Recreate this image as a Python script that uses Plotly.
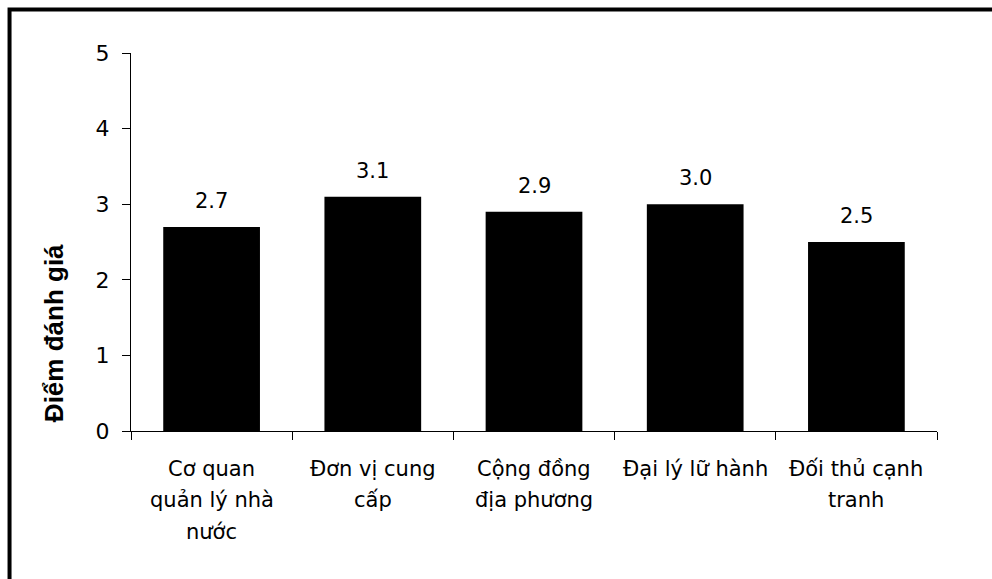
import plotly.graph_objects as go

# Survey scores by stakeholder group
categories = [
    "Cơ quan quản lý nhà nước",
    "Đơn vị cung cấp",
    "Cộng đồng địa phương",
    "Đại lý lữ hành",
    "Đối thủ cạnh tranh",
]
label_lines = [
    ["Cơ quan", "quản lý nhà", "nước"],
    ["Đơn vị cung", "cấp"],
    ["Cộng đồng", "địa phương"],
    ["Đại lý lữ hành"],
    ["Đối thủ cạnh", "tranh"],
]
scores = [2.7, 3.1, 2.9, 3.0, 2.5]
y_ticks = [0, 1, 2, 3, 4, 5]
y_title = "Điểm đánh giá"

FONT = "DejaVu Sans"

fig = go.Figure()
fig.add_trace(go.Bar(
    x=categories,
    y=scores,
    marker=dict(color="black", line=dict(width=0)),
    hoverinfo="skip",
))

annotations = []
# value labels above each bar
for cat, val in zip(categories, scores):
    annotations.append(dict(
        x=cat, y=val, xref="x", yref="y",
        text=f"{val:.1f}", showarrow=False,
        xanchor="center", yanchor="bottom", yshift=12,
        font=dict(family=FONT, size=21, color="black"),
    ))

# category labels, one annotation per line for wider line spacing
for cat, lines in zip(categories, label_lines):
    for i, line in enumerate(lines):
        annotations.append(dict(
            x=cat, y=0, xref="x", yref="y",
            text=line, showarrow=False,
            xanchor="center", yanchor="top", yshift=-(24 + i * 31.3),
            font=dict(family=FONT, size=21, color="black"),
        ))

# y-axis title
annotations.append(dict(
    x=-0.0955, y=0.259, xref="paper", yref="paper",
    text=f"<b>{y_title}</b>", showarrow=False, textangle=-90,
    xanchor="center", yanchor="middle",
    font=dict(family="Liberation Sans", size=26, color="black"),
))

fig.update_layout(
    width=992, height=579,
    margin=dict(l=131, r=55, t=53, b=148, pad=0),
    paper_bgcolor="white", plot_bgcolor="white",
    showlegend=False,
    bargap=0.4,
    font=dict(family=FONT, color="black"),
    annotations=annotations,
    shapes=[dict(
        type="rect", xref="paper", yref="paper",
        x0=-0.1507, x1=1.09, y0=-0.45, y1=1.1151,
        line=dict(color="black", width=4), fillcolor="rgba(0,0,0,0)",
        layer="above",
    )],
)

fig.update_xaxes(
    type="category", range=[-0.5, 4.5],
    showline=True, linecolor="black", linewidth=1,
    ticks="outside", tickson="boundaries", ticklen=8, tickcolor="black", tickwidth=1,
    showticklabels=False, showgrid=False, zeroline=False,
)
fig.update_yaxes(
    range=[0, 5], tickvals=y_ticks,
    showline=True, linecolor="black", linewidth=1,
    ticks="outside", ticklen=8, tickcolor="black", tickwidth=1,
    ticklabelstandoff=8,
    tickfont=dict(family=FONT, size=22, color="black"),
    showgrid=False, zeroline=False,
)

fig.write_html("out.html")
